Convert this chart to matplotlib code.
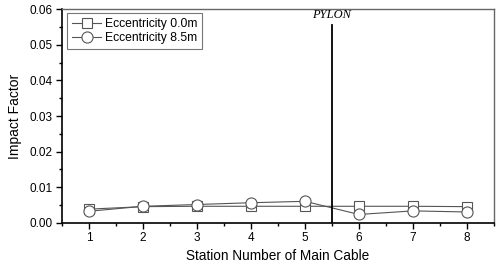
import numpy as np
import matplotlib.pyplot as plt
from matplotlib.ticker import MultipleLocator

plt.rcParams['font.family'] = ['Liberation Sans', 'DejaVu Sans']

stations = [1, 2, 3, 4, 5, 6, 7, 8]
ecc_00 = [0.0038, 0.0045, 0.0046, 0.0046, 0.0046, 0.0046, 0.0046, 0.0045]
ecc_85 = [0.0032, 0.0046, 0.0051, 0.0056, 0.0060, 0.0023, 0.0033, 0.0030]
pylon_x = 5.5
pylon_top = 0.0557

fig = plt.figure(figsize=(5, 2.61), dpi=100)
ax = fig.add_axes([0.124, 0.147, 0.864, 0.817])

ax.plot(stations, ecc_00, color='#555555', lw=0.8, marker='s', ms=7,
        mfc='white', mec='#555555', mew=0.8, label='Eccentricity 0.0m')
ax.plot(stations, ecc_85, color='#555555', lw=0.8, marker='o', ms=8,
        mfc='white', mec='#555555', mew=0.8, label='Eccentricity 8.5m')

ax.plot([pylon_x, pylon_x], [0, pylon_top], color='black', lw=1.3)
ax.text(pylon_x, 0.0568, 'PYLON', family='Liberation Serif', style='italic',
        fontsize=9, ha='center', va='bottom')

ax.set_xlim(0.5, 8.5)
ax.set_ylim(0, 0.06)
ax.set_xticks(stations)
ax.set_yticks(np.arange(0, 0.061, 0.01))
ax.set_yticklabels(['%.2f' % v for v in np.arange(0, 0.061, 0.01)])
ax.xaxis.set_minor_locator(MultipleLocator(0.5))
ax.yaxis.set_minor_locator(MultipleLocator(0.005))
ax.tick_params(which='major', direction='out', length=4, width=1,
               labelsize=8.5, pad=3)
ax.tick_params(which='minor', direction='out', length=2.5, width=1)
ax.tick_params(top=False, right=False)
for s in ['left', 'bottom']:
    ax.spines[s].set_linewidth(1.2)
for s in ['top', 'right']:
    ax.spines[s].set_color('#666666')
    ax.spines[s].set_linewidth(1.0)

ax.set_xlabel('Station Number of Main Cable', fontsize=9.8, labelpad=3)
ax.set_ylabel('Impact Factor', fontsize=10, labelpad=5)

leg = ax.legend(loc='upper left', fontsize=8.7, frameon=True, fancybox=False,
                edgecolor='#555555', borderpad=0.4, handlelength=2.4,
                handletextpad=0.3, labelspacing=0.2, borderaxespad=0.3,
                bbox_to_anchor=(0.004, 1.0))
leg.get_frame().set_linewidth(0.8)

fig.savefig('out.png', dpi=100)
